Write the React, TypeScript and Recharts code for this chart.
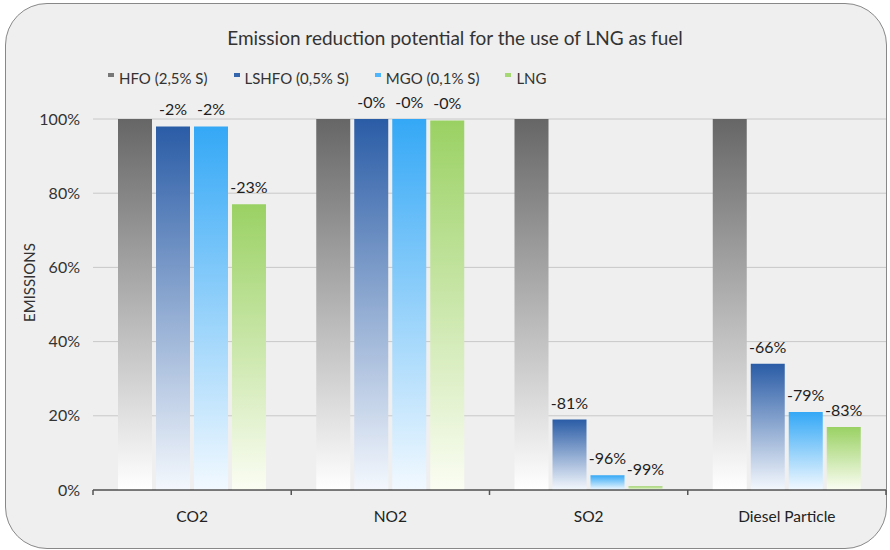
import { BarChart, Bar, XAxis, YAxis, CartesianGrid, LabelList, Legend, Label } from 'recharts';

const categories = ['CO2', 'NO2', 'SO2', 'Diesel Particle'];
const hfo = [100, 100, 100, 100];
const lshfo = [98, 100, 19, 34];
const mgo = [98, 100, 4, 21];
const lng = [77, 99.6, 1, 17];

const seriesKeys = ['hfo', 'lshfo', 'mgo', 'lng'];
const seriesNames = ['HFO (2,5% S)', 'LSHFO (0,5% S)', 'MGO (0,1% S)', 'LNG'];
const topColors = ['#666666', '#2a5ca6', '#34a8f6', '#9ad163'];
const bottomColors = ['#ffffff', '#f4f8fd', '#f2f9ff', '#fbfdf3'];
const markerColors = ['#777777', '#3466ad', '#4cb5fb', '#a5d872'];
const yTicks = [0, 20, 40, 60, 80, 100];

const data = categories.map((name, i) => ({
    name,
    hfo: hfo[i],
    lshfo: lshfo[i],
    mgo: mgo[i],
    lng: lng[i],
}));

const reduction = (v: any) => `-${Math.round(100 - Number(v))}%`;

// category label plus the little boundary ticks between the groups
const CategoryTick = (props: any) => {
    const { x, y, payload, width, visibleTicksCount, index } = props;
    const band = width / visibleTicksCount;
    return (
        <g>
            <line x1={x - band / 2} x2={x - band / 2} y1={y} y2={y + 5} stroke="#555" strokeWidth={1.5} />
            {index === visibleTicksCount - 1 && (
                <line x1={x + band / 2} x2={x + band / 2} y1={y} y2={y + 5} stroke="#555" strokeWidth={1.5} />
            )}
            <text x={x} y={y + 26} textAnchor="middle" dominantBaseline="central" fill="#222" fontSize={15.5}>
                {payload.value}
            </text>
        </g>
    );
};

const renderLegend = () => (
    <div style={{ display: 'flex', fontSize: 15, color: '#333', whiteSpace: 'nowrap' }}>
        {seriesNames.map((n, i) => (
            <div key={n} style={{ display: 'flex', alignItems: 'flex-start', marginRight: 26 }}>
                <span style={{ width: 6, height: 4, background: markerColors[i], marginTop: 4, marginRight: 5 }} />
                <span>{n}</span>
            </div>
        ))}
    </div>
);

export default function App() {
    return (
        <div style={{ position: 'absolute', left: 0, top: 0, width: 890, height: 550, background: '#fff', fontFamily: 'Lato, sans-serif' }}>
            <div
                style={{
                    position: 'absolute',
                    left: 5,
                    top: 3,
                    width: 882,
                    height: 546,
                    boxSizing: 'border-box',
                    border: '1.5px solid #888',
                    borderRadius: 42,
                    background: '#efefef',
                }}
            />
            <div style={{ position: 'absolute', left: 0, top: 0 }}>
                <BarChart
                    width={890}
                    height={550}
                    data={data}
                    margin={{ top: 119, right: 4, left: 0, bottom: 30 }}
                    barCategoryGap={25}
                    barGap={4}
                >
                    <defs>
                        {seriesKeys.map((k, i) => (
                            <linearGradient key={k} id={`grad-${k}`} x1="0" y1="0" x2="0" y2="1">
                                <stop offset="0%" stopColor={topColors[i]} />
                                <stop offset="100%" stopColor={bottomColors[i]} />
                            </linearGradient>
                        ))}
                    </defs>
                    <text x={455} y={37} textAnchor="middle" dominantBaseline="central" fontSize={19} fill="#333">
                        Emission reduction potential for the use of LNG as fuel
                    </text>
                    <CartesianGrid vertical={false} stroke="#c8c8c8" strokeWidth={1} />
                    <XAxis
                        dataKey="name"
                        tickLine={false}
                        tickSize={0}
                        tickMargin={0}
                        axisLine={{ stroke: '#555', strokeWidth: 1.5 }}
                        tick={<CategoryTick />}
                        interval={0}
                    />
                    <YAxis
                        width={93}
                        domain={[0, 100]}
                        ticks={yTicks}
                        tickFormatter={(v) => `${v}%`}
                        axisLine={false}
                        tickLine={false}
                        tickSize={0}
                        tickMargin={13}
                        tick={{ fill: '#333', fontSize: 16 }}
                    >
                        <Label
                            content={({ viewBox }: any) => {
                                const cx = viewBox.x + 29;
                                const cy = viewBox.y + viewBox.height / 2 - 22;
                                return (
                                    <text
                                        x={cx}
                                        y={cy}
                                        transform={`rotate(-90, ${cx}, ${cy})`}
                                        textAnchor="middle"
                                        dominantBaseline="central"
                                        fontSize={15}
                                        fill="#333"
                                    >
                                        EMISSIONS
                                    </text>
                                );
                            }}
                        />
                    </YAxis>
                    <Legend
                        verticalAlign="top"
                        content={renderLegend}
                        wrapperStyle={{ top: 69, left: 108, height: 0, width: 'auto' }}
                    />
                    {seriesKeys.map((k, i) => (
                        <Bar key={k} dataKey={k} name={seriesNames[i]} fill={`url(#grad-${k})`} isAnimationActive={false}>
                            {k !== 'hfo' && (
                                <LabelList dataKey={k} position="top" offset={11} formatter={reduction} fill="#1e1e1e" fontSize={16} />
                            )}
                        </Bar>
                    ))}
                </BarChart>
            </div>
        </div>
    );
}
